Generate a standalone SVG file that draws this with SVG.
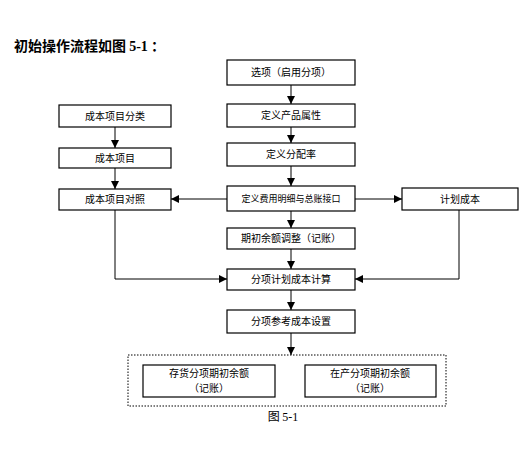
<svg xmlns="http://www.w3.org/2000/svg" width="528" height="453" viewBox="0 0 528 453">
<defs>
<style>
.box{fill:#fff;stroke:#000;stroke-width:1.2}
.t{font-family:"Noto Sans CJK SC","Liberation Serif",sans-serif;font-size:10px;fill:#000;text-anchor:middle}
.ln{fill:none;stroke:#000;stroke-width:1}
.dot{fill:none;stroke:#000;stroke-width:1;stroke-dasharray:1.5 1.5}
</style>
<marker id="ah" viewBox="0 0 10 10" refX="10" refY="5" markerWidth="8" markerHeight="8" markerUnits="userSpaceOnUse" orient="auto">
<path d="M0,0 L10,5 L0,10 Z" fill="#000"/>
</marker>
</defs>
<rect width="528" height="453" fill="#fff"/>
<text x="14" y="51" style="font-family:'Noto Sans CJK SC',sans-serif;font-size:14px;font-weight:bold">初始操作流程如图 <tspan style="font-family:'Liberation Serif',serif">5-1</tspan> ：</text>

<g id="connectors">
<line class="ln" x1="291" y1="85" x2="291" y2="104" marker-end="url(#ah)"/>
<line class="ln" x1="291" y1="127" x2="291" y2="143" marker-end="url(#ah)"/>
<line class="ln" x1="291" y1="166" x2="291" y2="186" marker-end="url(#ah)"/>
<line class="ln" x1="291" y1="211" x2="291" y2="228" marker-end="url(#ah)"/>
<line class="ln" x1="291" y1="249" x2="291" y2="269" marker-end="url(#ah)"/>
<line class="ln" x1="291" y1="290" x2="291" y2="310" marker-end="url(#ah)"/>
<line class="ln" x1="291" y1="333" x2="291" y2="355" marker-end="url(#ah)"/>
<line class="ln" x1="115" y1="127" x2="115" y2="148" marker-end="url(#ah)"/>
<line class="ln" x1="115" y1="168" x2="115" y2="189" marker-end="url(#ah)"/>
<line class="ln" x1="227" y1="199" x2="171" y2="199" marker-end="url(#ah)"/>
<line class="ln" x1="355" y1="199" x2="402" y2="199" marker-end="url(#ah)"/>
<polyline class="ln" points="115,210 115,279 227,279" marker-end="url(#ah)"/>
<polyline class="ln" points="459,210 459,279 355,279" marker-end="url(#ah)"/>
</g>

<g id="n1"><rect class="box" x="227" y="60" width="128" height="25"/><text class="t" x="291" y="76">选项（启用分项）</text></g>
<g id="n2"><rect class="box" x="227" y="104" width="128" height="23"/><text class="t" x="291" y="119">定义产品属性</text></g>
<g id="n3"><rect class="box" x="227" y="143" width="128" height="23"/><text class="t" x="291" y="158">定义分配率</text></g>
<g id="n4"><rect class="box" x="227" y="186" width="128" height="25"/><text class="t" x="291" y="202" style="font-size:9px">定义费用明细与总账接口</text></g>
<g id="n5"><rect class="box" x="227" y="228" width="128" height="21"/><text class="t" x="291" y="242">期初余额调整（记账）</text></g>
<g id="n6"><rect class="box" x="227" y="269" width="128" height="21"/><text class="t" x="291" y="283">分项计划成本计算</text></g>
<g id="n7"><rect class="box" x="227" y="310" width="128" height="23"/><text class="t" x="291" y="325">分项参考成本设置</text></g>
<g id="l1"><rect class="box" x="59" y="105" width="112" height="22"/><text class="t" x="115" y="120">成本项目分类</text></g>
<g id="l2"><rect class="box" x="59" y="148" width="112" height="20"/><text class="t" x="115" y="162">成本项目</text></g>
<g id="l3"><rect class="box" x="59" y="189" width="112" height="21"/><text class="t" x="115" y="203">成本项目对照</text></g>
<g id="r1"><rect class="box" x="402" y="188" width="116" height="22"/><text class="t" x="460" y="203">计划成本</text></g>
<g id="group"><rect class="dot" x="128" y="355" width="318" height="51"/></g>
<g id="b1"><rect class="box" x="143" y="365" width="132" height="32"/><text class="t" x="209" y="377">存货分项期初余额</text><text class="t" x="209" y="392">（记账）</text></g>
<g id="b2"><rect class="box" x="305" y="365" width="131" height="32"/><text class="t" x="370" y="377">在产分项期初余额</text><text class="t" x="370" y="392">（记账）</text></g>
<text x="283" y="421" style="font-family:'Noto Sans CJK SC',sans-serif;font-size:12px;text-anchor:middle">图 <tspan style="font-family:'Liberation Serif',serif">5-1</tspan></text>
</svg>
